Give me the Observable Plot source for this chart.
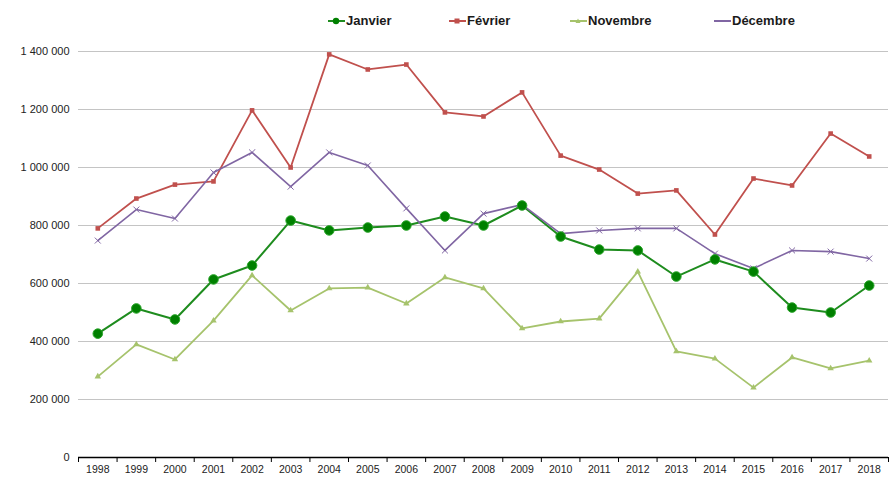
<!DOCTYPE html>
<html><head><meta charset="utf-8">
<script src="https://cdn.jsdelivr.net/npm/d3@7"></script>
<script src="https://cdn.jsdelivr.net/npm/@observablehq/plot@0.6"></script>
<style>
body{margin:0;background:#fff;font-family:"Liberation Sans",Arial,sans-serif;}
#legend{position:relative;height:38px;width:895px;}
.item{position:absolute;top:13px;font-weight:bold;font-size:13px;color:#1a1a1a;display:flex;align-items:center;line-height:16px;}
.item svg{margin-right:1px;}
</style></head><body>
<div id="legend"></div><div id="chart"></div>
<script>
const years = [1998,1999,2000,2001,2002,2003,2004,2005,2006,2007,2008,2009,2010,2011,2012,2013,2014,2015,2016,2017,2018];
const janvier  = [427000,514000,476000,614000,662000,817000,783000,793000,800000,831000,800000,869000,762000,717000,714000,624000,683000,641000,517000,500000,593000];
const fevrier  = [790000,893000,941000,952000,1197000,1000000,1390000,1338000,1355000,1190000,1176000,1259000,1041000,993000,910000,921000,769000,962000,938000,1117000,1038000];
const novembre = [279000,390000,338000,472000,628000,507000,583000,586000,531000,621000,583000,445000,469000,479000,641000,366000,341000,241000,345000,307000,334000];
const decembre = [748000,855000,824000,983000,1052000,934000,1052000,1007000,859000,714000,841000,872000,772000,783000,790000,790000,703000,652000,714000,710000,686000];
const seriesNames = ["Janvier","Février","Novembre","Décembre"];
const yTicks = [0,200000,400000,600000,800000,1000000,1200000,1400000];

const colors = {Janvier:"#1e8c1e", "Février":"#c0504d", Novembre:"#a6c36c", "Décembre":"#8066a3"};
const valuesBy = {Janvier:janvier, "Février":fevrier, Novembre:novembre, "Décembre":decembre};
const rows = seriesNames.flatMap(s => years.map((y,i) => ({series:s, year:y, value:valuesBy[s][i]})));
const of = s => rows.filter(d => d.series === s);
const boundaries = years.map(y => y - 0.5).concat([years[years.length-1] + 0.5]);
const fmt = d => d3.format(",")(d).replace(/,/g, " ");

// legend
const legendPos = {Janvier:328, "Février":449, Novembre:570, "Décembre":714};
const sym = {
  Janvier: c => `<circle cx="8" cy="8" r="3.2" fill="#008000"/>`,
  "Février": c => `<rect x="5.5" y="5.5" width="5" height="5" fill="${c}"/>`,
  Novembre: c => `<path d="M8 5.5 L10.5 10 L5.5 10 Z" fill="${c}"/>`,
  "Décembre": c => ``
};
const leg = document.getElementById("legend");
for (const s of seriesNames) {
  const c = colors[s];
  const el = document.createElement("div");
  el.className = "item";
  el.style.left = legendPos[s] + "px";
  el.innerHTML = `<svg width="17" height="16"><line x1="0" x2="17" y1="8" y2="8" stroke="${c}" stroke-width="2"/>${sym[s](c)}</svg><span>${s}</span>`;
  leg.appendChild(el);
}

const lineW = {Janvier:2, "Février":1.8, Novembre:1.8, "Décembre":1.6};
const marks = [
  Plot.gridY(yTicks.slice(1), {stroke:"#c4c4c4", strokeOpacity:1, strokeWidth:1.2}),
  Plot.axisY(yTicks, {tickSize:0, tickPadding:9, tickFormat:fmt, fontSize:11, fill:"#222", label:null}),
  Plot.axisX(years, {tickSize:0, tickPadding:8, tickFormat:d => String(d), fontSize:10.5, fill:"#222", label:null}),
  Plot.axisX(boundaries, {tickSize:5, tickFormat:() => "", stroke:"#000", label:null}),
  Plot.ruleY([0], {stroke:"#000", strokeWidth:1.5})
];
for (const s of seriesNames) {
  marks.push(Plot.line(of(s), {x:"year", y:"value", stroke:colors[s], strokeWidth:lineW[s]}));
}
marks.push(Plot.dot(of("Février"), {x:"year", y:"value", symbol:"square", r:2.6, fill:colors["Février"]}));
marks.push(Plot.dot(of("Novembre"), {x:"year", y:"value", symbol:"triangle", r:2.4, fill:colors["Novembre"]}));
marks.push(Plot.dot(of("Décembre"), {x:"year", y:"value", symbol:"times", r:2.8, stroke:colors["Décembre"], strokeWidth:1}));
marks.push(Plot.dot(of("Janvier"), {x:"year", y:"value", r:4.8, fill:"#008000", stroke:"#2aa52a", strokeWidth:1}));

const chart = Plot.plot({
  width:895, height:439,
  marginLeft:78, marginRight:7, marginTop:13, marginBottom:20,
  x:{type:"linear", domain:[1997.5, 2018.5], label:null},
  y:{domain:[0,1400000], label:null},
  style:{fontFamily:"'Liberation Sans', Arial, sans-serif", fontSize:"11px", color:"#222", background:"#fff"},
  marks
});
document.getElementById("chart").appendChild(chart);
</script>
</body></html>
